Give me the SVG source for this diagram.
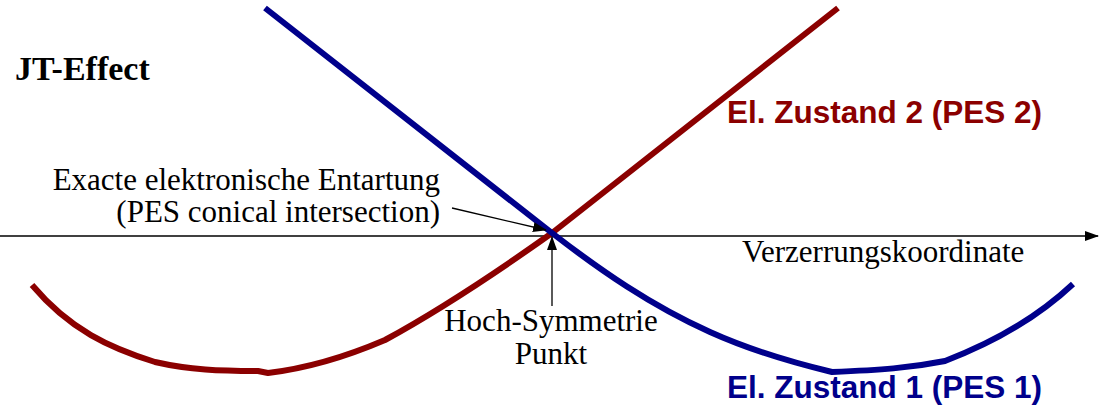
<svg xmlns="http://www.w3.org/2000/svg" width="1100" height="409" viewBox="0 0 1100 409">
<defs>
<style>
.serif{font-family:"Liberation Serif","Times New Roman",serif;fill:#000;font-size:31px}
.lbl{font-family:"Liberation Sans",Arial,sans-serif;font-weight:bold;font-size:31.5px}
.curve{fill:none;stroke-width:6;stroke-linejoin:round}
.thin{stroke:#000;stroke-width:1.3;fill:none}
</style>
<marker id="ah" markerWidth="14" markerHeight="10" refX="13" refY="5" orient="auto" markerUnits="userSpaceOnUse">
<path d="M0,0 L14,5 L0,10 Z" fill="#000"/>
</marker>
</defs>
<rect width="1100" height="409" fill="#fff"/>
<g id="connectors">
<line id="axis" class="thin" x1="0" y1="236" x2="1098" y2="236" marker-end="url(#ah)"/>
<path id="pes2" class="curve" stroke="#8b0000" d="M32,285 C70,330 110,348 155,362 C190,370 220,371 258,371 L268,373 C310,368 350,355 385,340 C440,310 500,270 552,233 L838,8"/>
<path id="pes1" class="curve" stroke="#00008b" d="M265,8 L552,233 C600,270 650,305 710,332 C750,350 790,362 832,372 C880,370 910,368 945,361 C1000,340 1040,315 1073,284"/>
<line class="thin" x1="452" y1="208" x2="546" y2="230" marker-end="url(#ah)"/>
<line class="thin" x1="552" y1="306" x2="552" y2="237" marker-end="url(#ah)"/>
</g>
<g id="title"><text x="15" y="80" font-family="Liberation Serif,Times New Roman,serif" font-size="34" font-weight="bold">JT-Effect</text></g>
<g id="state2"><text class="lbl" x="727" y="123" fill="#8b0000">El. Zustand 2 (PES 2)</text></g>
<g id="state1"><text class="lbl" x="727" y="398" fill="#00008b">El. Zustand 1 (PES 1)</text></g>
<g id="axislabel"><text class="serif" x="742" y="262">Verzerrungskoordinate</text></g>
<g id="degeneracy">
<text class="serif" x="440" y="190" text-anchor="end">Exacte elektronische Entartung</text>
<text class="serif" x="440" y="222" text-anchor="end">(PES conical intersection)</text>
</g>
<g id="highsym">
<text class="serif" x="551" y="331" text-anchor="middle" font-size="29">Hoch-Symmetrie</text>
<text class="serif" x="551" y="364" text-anchor="middle" font-size="29">Punkt</text>
</g>
</svg>
